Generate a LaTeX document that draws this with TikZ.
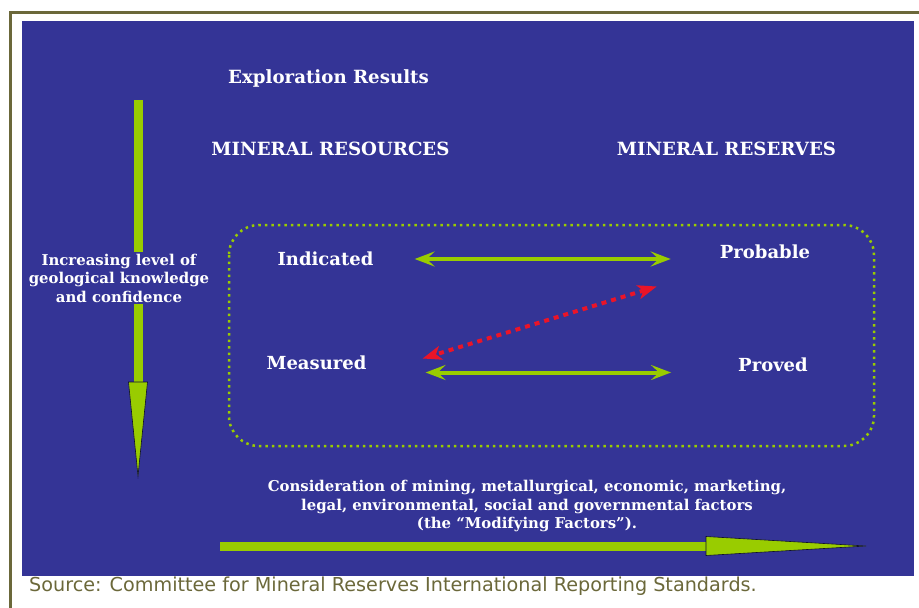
\documentclass[tikz,border=0pt]{standalone}
\usepackage{fontspec}
\setmainfont{DejaVu Serif}
\newfontfamily\sourcefont{DejaVu Sans}
\usetikzlibrary{arrows.meta}

\definecolor{boardblue}{RGB}{52,52,150}
\definecolor{limegreen}{RGB}{153,204,0}
\definecolor{alertred}{RGB}{235,20,40}
\definecolor{framegreen}{RGB}{107,104,58}

\tikzset{
  heading/.style={text=white, font=\bfseries\fontsize{18.2}{21}\selectfont, inner sep=0pt},
  grade/.style={text=white, font=\bfseries\fontsize{18}{21}\selectfont, inner sep=0pt},
  remark/.style={text=white, font=\bfseries\fontsize{14.9}{18.5}\selectfont, align=center, inner sep=0pt},
  duoarrow/.style={draw=limegreen, line width=4pt,
    {Stealth[length=20pt,width=15pt,inset=8pt]}-{Stealth[length=20pt,width=15pt,inset=8pt]}},
  redarrow/.style={draw=alertred, line width=4pt, dash pattern=on 5pt off 5pt,
    {Stealth[length=19pt,width=14pt,inset=5pt]}-{Stealth[length=19pt,width=14pt,inset=5pt]}},
  bigarrow/.style={draw=limegreen, line width=9pt},
  bighead/.style={fill=limegreen, draw=black!70!boardblue, line width=0.6pt}
}

\begin{document}
\begin{tikzpicture}[x=1pt, y=-1pt]
  \useasboundingbox (0,0) rectangle (919,608);
  \tikzstyle{tierbox}=[draw=limegreen, line width=2.5pt, dash pattern=on 2.5pt off 4pt, rounded corners=30pt]

  % frame and board
  \draw[framegreen, line width=3pt] (10,608) -- (10,12.5) -- (919,12.5);
  \fill[boardblue] (22,21) rectangle (914,576);

  % headings
  \node[heading, anchor=base] (results)   at (328.5,83) {Exploration Results};
  \node[heading, anchor=base] (resources) at (330.5,155) {MINERAL RESOURCES};
  \node[heading, anchor=base] (reserves)  at (726.5,155) {MINERAL RESERVES};

  % categories
  \draw[tierbox] (229,225) rectangle (874,446);
  \node[grade] (indicated) at (325.5,259) {Indicated};
  \node[grade] (probable)  at (765,251.5) {Probable};
  \node[grade] (measured)  at (316.5,362.5) {Measured};
  \node[grade] (proved)    at (773,365) {Proved};

  \draw[duoarrow, shorten <=41pt, shorten >=49pt] (indicated.east) -- (indicated.east -| probable.west);
  \draw[duoarrow, shorten <=59pt, shorten >=67pt] ([yshift=-10pt]measured.east) -- ([yshift=-10pt]measured.east -| proved.west);
  \draw[redarrow] ([xshift=-63pt,yshift=-35pt]probable.west) -- ([xshift=56pt,yshift=4pt]measured.east);

  % confidence axis
  \coordinate (depthtop) at (138,100);
  \coordinate (depthbase) at (138,382);
  \coordinate (depthtip) at (138,476);
  \draw[bigarrow] (depthtop) -- (depthbase);
  \draw[bighead] (depthbase) +(-9.5,0) -- (depthtip) -- ([xshift=9.5pt]depthbase) -- cycle;
  \node[remark, fill=boardblue, inner sep=2pt] (knowledge) at (119,278)
    {Increasing level of\\geological knowledge\\and confidence};

  % modifying factors axis
  \node[remark] (modifying) at (527,506)
    {Consideration of mining, metallurgical, economic, marketing,\\
     legal, environmental, social and governmental factors\\
     (the “Modifying Factors”).};
  \coordinate (factorstart) at (220,546);
  \coordinate (factorbase) at (706,546);
  \coordinate (factortip) at (866,546);
  \draw[bigarrow] (factorstart) -- (factorbase);
  \draw[bighead] (factorbase) +(0,-9.5) -- (factortip) -- ([yshift=-9.5pt]factorbase) -- cycle;

  \node[anchor=base west, text=framegreen, font=\sourcefont\fontsize{19.2}{22}\selectfont, inner sep=0pt] (source)
    at (29,591) {Source: Committee for Mineral Reserves International Reporting Standards.};
\end{tikzpicture}
\end{document}
